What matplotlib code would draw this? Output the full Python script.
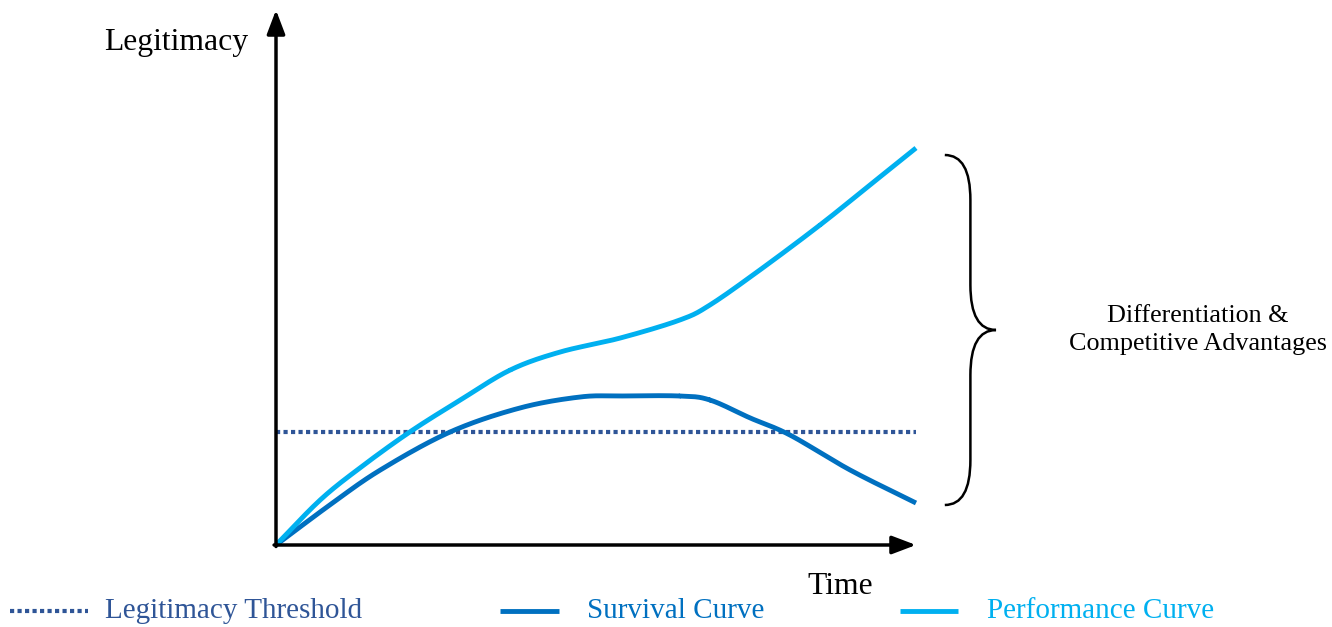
import numpy as np
import matplotlib.pyplot as plt
from matplotlib.path import Path
from matplotlib.patches import PathPatch
from matplotlib.lines import Line2D

plt.rcParams['font.family'] = ['Liberation Serif', 'DejaVu Serif']

# curve data (time vs legitimacy, arbitrary units)
perf_t = [0, 0.69, 1.31, 2.09, 2.88, 3.66, 4.44, 5.38, 6.31, 6.78, 7.56, 8.5, 9.28, 10]
perf_L = [0, 0.9, 1.54, 2.26, 2.9, 3.5, 3.86, 4.14, 4.5, 4.8, 5.5, 6.4, 7.2, 7.94]

surv_t = [0, 0.84, 1.63, 2.72, 3.81, 4.75, 5.38, 6.31, 6.78, 7.41, 8.03, 8.97, 10]
surv_L = [0, 0.8, 1.5, 2.26, 2.74, 2.96, 2.98, 2.98, 2.9, 2.54, 2.2, 1.5, 0.84]

threshold = 2.26
t_end = 10

c_perf = '#00B0F0'
c_surv = '#0070C0'
c_thr = '#2F5597'


def smooth(t, v):
    # Catmull-Rom through the read points
    t = np.asarray(t, float); v = np.asarray(v, float)
    P = np.column_stack([t, v])
    P = np.vstack([2 * P[0] - P[1], P, 2 * P[-1] - P[-2]])
    out = []
    for i in range(1, len(P) - 2):
        p0, p1, p2, p3 = P[i - 1], P[i], P[i + 1], P[i + 2]
        s = np.linspace(0, 1, 25)[:, None]
        pts = 0.5 * ((2 * p1) + (-p0 + p2) * s + (2 * p0 - 5 * p1 + 4 * p2 - p3) * s ** 2
                     + (-p0 + 3 * p1 - 3 * p2 + p3) * s ** 3)
        out.append(pts)
    out = np.vstack(out)
    return out[:, 0], out[:, 1]


fig = plt.figure(figsize=(13.32, 6.27), dpi=100)
ax = fig.add_axes([0, 0, 1, 1])
ax.set_xlim(-4.3125, 16.5)
ax.set_ylim(-1.64, 10.9)
ax.axis('off')

# axes arrows
arrow = dict(arrowstyle='-|>,head_length=1.45,head_width=0.55', color='black', lw=2.5,
             shrinkA=0, shrinkB=0)
ax.annotate('', xy=(10.0, 0), xytext=(-0.03, 0), arrowprops=arrow)
ax.annotate('', xy=(0, 10.7), xytext=(0, -0.03), arrowprops=arrow)

ax.plot([0, t_end], [threshold, threshold], color=c_thr, lw=3, ls=(0, (1, 0.8)))
x, y = smooth(surv_t, surv_L)
ax.plot(x, y, color=c_surv, lw=3.5, solid_capstyle='butt')
x, y = smooth(perf_t, perf_L)
ax.plot(x, y, color=c_perf, lw=3.5, solid_capstyle='butt')

ax.text(-1.56, 10.06, 'Legitimacy', fontsize=22.8, ha='center', va='center')
ax.text(8.81, -0.84, 'Time', fontsize=22.8, ha='center', va='center')

# curly brace
xl, xm, xt = 10.45, 10.85, 11.25
yt, yb, ymid = 7.8, 0.8, 4.3
r = 0.9
verts = [(xl, yt), (xm, yt), (xm, yt - r), (xm, yt - r - 0.3),
         (xm, ymid + r), (xm, ymid), (xt, ymid),
         (xm, ymid), (xm, ymid - r),
         (xm, yb + r), (xm, yb + r), (xm, yb), (xl, yb)]
codes = [Path.MOVETO, Path.CURVE3, Path.CURVE3, Path.LINETO,
         Path.LINETO, Path.CURVE3, Path.CURVE3,
         Path.CURVE3, Path.CURVE3,
         Path.LINETO, Path.LINETO, Path.CURVE3, Path.CURVE3]
ax.add_patch(PathPatch(Path(verts, codes), fc='none', ec='black', lw=1.8))

ax.text(14.41, 4.3, 'Differentiation &\nCompetitive Advantages', fontsize=18.8,
        ha='center', va='center', linespacing=1.3)

# legend drawn by hand (figure fractions)
labels = ['Legitimacy Threshold', 'Survival Curve', 'Performance Curve']
colors = [c_thr, c_surv, c_perf]
styles = [(0, (1, 0.8)), '-', '-']
line_x = [(0.0075, 0.066), (0.375, 0.42), (0.676, 0.719)]
text_x = [0.079, 0.4405, 0.741]
yleg = 1 - 611 / 627
for lab, c, ls, (x0, x1), tx in zip(labels, colors, styles, line_x, text_x):
    fig.add_artist(Line2D([x0, x1], [yleg, yleg], transform=fig.transFigure,
                          color=c, lw=3.5 if ls == '-' else 3, ls=ls, solid_capstyle='butt'))
    fig.text(tx, yleg, lab, color=c, fontsize=21, ha='left', va='center')

fig.savefig('out.png', dpi=100)
